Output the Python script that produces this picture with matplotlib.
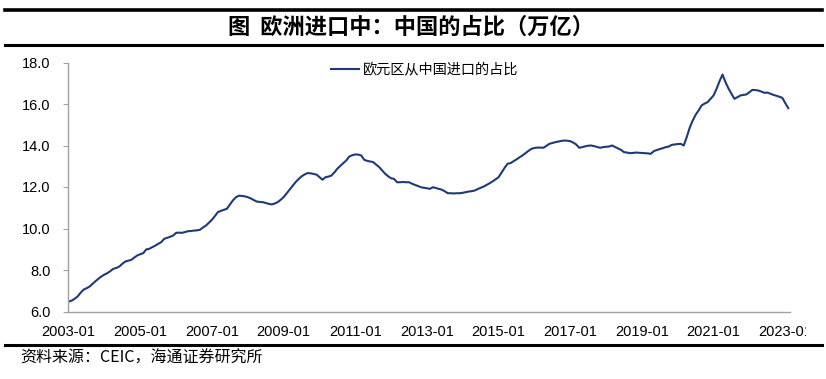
import matplotlib
matplotlib.use("Agg")
import matplotlib.pyplot as plt
from matplotlib.lines import Line2D
from matplotlib.transforms import Bbox
import numpy as np

plt.rcParams['font.family'] = ['Liberation Sans', 'Noto Sans CJK SC', 'DejaVu Sans']

# Monthly values, 2003-01 .. 2023-02
v2003 = [6.48, 6.52, 6.61, 6.72, 6.90, 7.05, 7.12, 7.20, 7.33, 7.46, 7.58, 7.69]
v2004 = [7.78, 7.85, 7.95, 8.06, 8.10, 8.17, 8.30, 8.41, 8.45, 8.49, 8.60, 8.70]
v2005 = [8.76, 8.81, 8.99, 9.02, 9.10, 9.17, 9.26, 9.34, 9.50, 9.55, 9.60, 9.66]
v2006 = [9.79, 9.80, 9.79, 9.83, 9.87, 9.88, 9.90, 9.91, 9.94, 10.05, 10.14, 10.28]
v2007 = [10.42, 10.60, 10.79, 10.85, 10.90, 10.95, 11.15, 11.35, 11.50, 11.58, 11.57, 11.55]
v2008 = [11.51, 11.45, 11.37, 11.30, 11.28, 11.27, 11.23, 11.19, 11.16, 11.20, 11.27, 11.38]
v2009 = [11.51, 11.69, 11.87, 12.05, 12.23, 12.38, 12.51, 12.60, 12.67, 12.66, 12.63, 12.60]
v2010 = [12.48, 12.35, 12.47, 12.50, 12.55, 12.70, 12.88, 13.02, 13.15, 13.28, 13.47, 13.53]
v2011 = [13.57, 13.56, 13.52, 13.31, 13.26, 13.23, 13.20, 13.08, 12.96, 12.80, 12.64, 12.52]
v2012 = [12.42, 12.39, 12.23, 12.23, 12.24, 12.23, 12.23, 12.16, 12.10, 12.05, 11.99, 11.96]
v2013 = [11.94, 11.91, 11.99, 11.95, 11.91, 11.87, 11.79, 11.70, 11.70, 11.69, 11.70, 11.70]
v2014 = [11.72, 11.75, 11.78, 11.80, 11.83, 11.90, 11.96, 12.02, 12.10, 12.18, 12.27, 12.37]
v2015 = [12.47, 12.70, 12.92, 13.12, 13.15, 13.24, 13.33, 13.43, 13.52, 13.63, 13.74, 13.84]
v2016 = [13.88, 13.90, 13.90, 13.89, 13.98, 14.08, 14.12, 14.16, 14.19, 14.22, 14.24, 14.23]
v2017 = [14.21, 14.14, 14.05, 13.89, 13.92, 13.96, 13.99, 14.00, 13.97, 13.93, 13.89, 13.92]
v2018 = [13.94, 13.95, 14.00, 13.93, 13.86, 13.79, 13.68, 13.66, 13.63, 13.64, 13.66, 13.65]
v2019 = [13.64, 13.63, 13.62, 13.60, 13.73, 13.78, 13.83, 13.87, 13.92, 13.95, 14.03, 14.05]
v2020 = [14.07, 14.08, 14.00, 14.40, 14.85, 15.20, 15.48, 15.69, 15.93, 16.02, 16.09, 16.25]
v2021 = [16.41, 16.73, 17.10, 17.42, 17.05, 16.75, 16.49, 16.25, 16.33, 16.41, 16.44, 16.46]
v2022 = [16.57, 16.68, 16.67, 16.65, 16.60, 16.54, 16.55, 16.50, 16.44, 16.40, 16.35, 16.30]
v2023 = [16.05, 15.80]

values = (v2003 + v2004 + v2005 + v2006 + v2007 + v2008 + v2009 + v2010 + v2011 + v2012
          + v2013 + v2014 + v2015 + v2016 + v2017 + v2018 + v2019 + v2020 + v2021 + v2022 + v2023)

x_labels = ['2003-01', '2005-01', '2007-01', '2009-01', '2011-01', '2013-01',
            '2015-01', '2017-01', '2019-01', '2021-01', '2023-01']
y_ticks = [6.0, 8.0, 10.0, 12.0, 14.0, 16.0, 18.0]

series_name = '欧元区从中国进口的占比'
title = '图  欧洲进口中：中国的占比（万亿）'
source = '资料来源：CEIC，海通证券研究所'

W, H = 826, 379
fig = plt.figure(figsize=(W / 100, H / 100), dpi=100)

L, R, T, B = 68, 790, 62.5, 311.5
ax = fig.add_axes([L / W, 1 - B / H, (R - L) / W, (B - T) / H])

months = np.arange(len(values))
line, = ax.plot(months, values, color='#1F3A78', lw=1.5, solid_joinstyle='round')

ax.set_xlim(-0.2, 241.6)
ax.set_ylim(6.0, 18.0)

ax.set_yticks(y_ticks)
ax.set_yticklabels([f'{t:.1f}' for t in y_ticks], fontsize=10.5, color='#000000')
ax.tick_params(axis='y', length=3.6, width=0.8, color='#A0A0A0', pad=9)

tick_pos = [i * 24 for i in range(len(x_labels))]
ax.set_xticks(tick_pos)
ax.set_xticklabels(x_labels, fontsize=10.5, color='#000000')
ax.tick_params(axis='x', length=0, pad=10)
clipbox = Bbox([[0, 0], [806, H]])
for lab in ax.get_xticklabels():
    lab.set_clip_on(True)
    lab.set_clip_box(clipbox)

for s in ['top', 'right']:
    ax.spines[s].set_visible(False)
for s in ['left', 'bottom']:
    ax.spines[s].set_color('#A0A0A0')
    ax.spines[s].set_linewidth(1.0)

# legend
leg = ax.legend([line], [series_name], loc='upper left',
                bbox_to_anchor=((318 - L) / (R - L), 1.05), frameon=False,
                handlelength=2.0, handletextpad=0.3,
                prop={'family': ['Noto Sans CJK SC'], 'size': 10.2})

# title & rules
fig.text(411 / W, 1 - 27 / H, title, ha='center', va='center',
         fontsize=16, fontweight='bold', family=['Noto Sans CJK SC'])
for yy, lw in [(10, 2.6), (45, 2.2), (345, 2.2)]:
    fig.add_artist(Line2D([5 / W, 822 / W], [1 - yy / H, 1 - yy / H],
                          color='black', lw=lw, transform=fig.transFigure))

fig.text(20 / W, 1 - 358 / H, source, ha='left', va='center',
         fontsize=11.5, family=['Noto Sans CJK SC', 'Liberation Sans'])

fig.savefig('out.png', dpi=100)
